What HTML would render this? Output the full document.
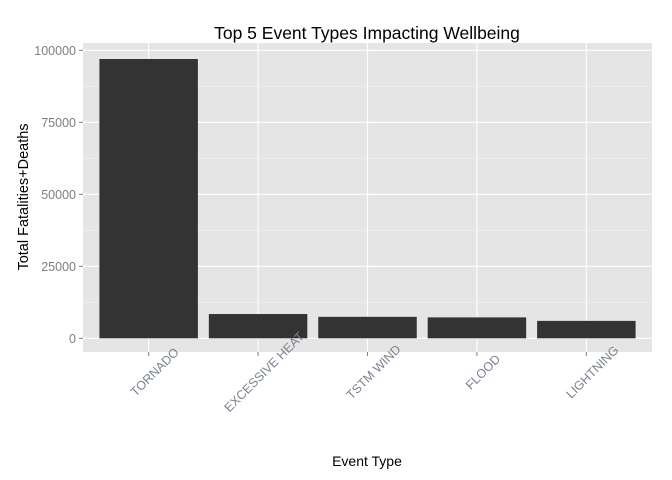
<!DOCTYPE html>
<html><head><meta charset="utf-8"><style>
body{margin:0;background:#fff}
svg{font-family:"Liberation Sans",Arial,sans-serif;display:block}
</style></head><body>
<svg id="chart" width="672" height="480"></svg>
<script>
const categories=["TORNADO","EXCESSIVE HEAT","TSTM WIND","FLOOD","LIGHTNING"];
const values=[96979,8428,7461,7259,6046];
const yTicks=[0,25000,50000,75000,100000];
const NS="http://www.w3.org/2000/svg";
const svg=document.getElementById('chart');
const L=83,R=652,T=43,B=352;
const y0=338.3,pxPer=288/100000;
const y=v=>y0-v*pxPer;
const step=(R-L)/(categories.length+0.2);
const x=i=>L+step*(0.6+i);
function mk(tag,attrs,parent){const e=document.createElementNS(NS,tag);for(const k in attrs)e.setAttribute(k,attrs[k]);(parent||svg).appendChild(e);return e;}
const panel=mk('rect',{x:L,y:T,width:R-L,height:B-T,fill:'#e5e5e5'});


for(let i=0;i<yTicks.length-1;i++){const m=(yTicks[i]+yTicks[i+1])/2;const g=mk('line',{x1:L,x2:R,y1:y(m),y2:y(m),stroke:'#f2f2f2','stroke-width':0.6});

}
yTicks.forEach(t=>{const g=mk('line',{x1:L,x2:R,y1:y(t),y2:y(t),stroke:'#fff','stroke-width':1.1});


const tk=mk('line',{x1:L-4,x2:L,y1:y(t),y2:y(t),stroke:'#7f7f7f','stroke-width':1});


const tx=mk('text',{x:L-7,y:y(t)+4.5,'text-anchor':'end','font-size':12.5,fill:'#7f7f7f'});tx.textContent=t;

});
categories.forEach((c,i)=>{const g=mk('line',{x1:x(i),x2:x(i),y1:T,y2:B,stroke:'#fff','stroke-width':1.1});

});
categories.forEach((c,i)=>{const w=step*0.9;const b=mk('rect',{x:x(i)-w/2,y:y(values[i]),width:w,height:y0-y(values[i]),fill:'#333'});


const tk=mk('line',{x1:x(i),x2:x(i),y1:B,y2:B+4,stroke:'#7f7f7f','stroke-width':1});


const lx=x(i)+9,ly=B+23;
const tx=mk('text',{x:lx,y:ly,'text-anchor':'middle','font-size':12.5,fill:'#7a8290',transform:`rotate(-45 ${lx} ${ly})`});tx.textContent=c;

});
const title=mk('text',{x:367,y:39,'text-anchor':'middle','font-size':17.5,fill:'#000'});title.textContent='Top 5 Event Types Impacting Wellbeing';


const xt=mk('text',{x:367,y:466,'text-anchor':'middle','font-size':14,fill:'#000'});xt.textContent='Event Type';


const yt=mk('text',{x:28,y:197,'text-anchor':'middle','font-size':14.5,fill:'#000',transform:'rotate(-90 28 197)'});yt.textContent='Total Fatalities+Deaths';


</script>
</body></html>
